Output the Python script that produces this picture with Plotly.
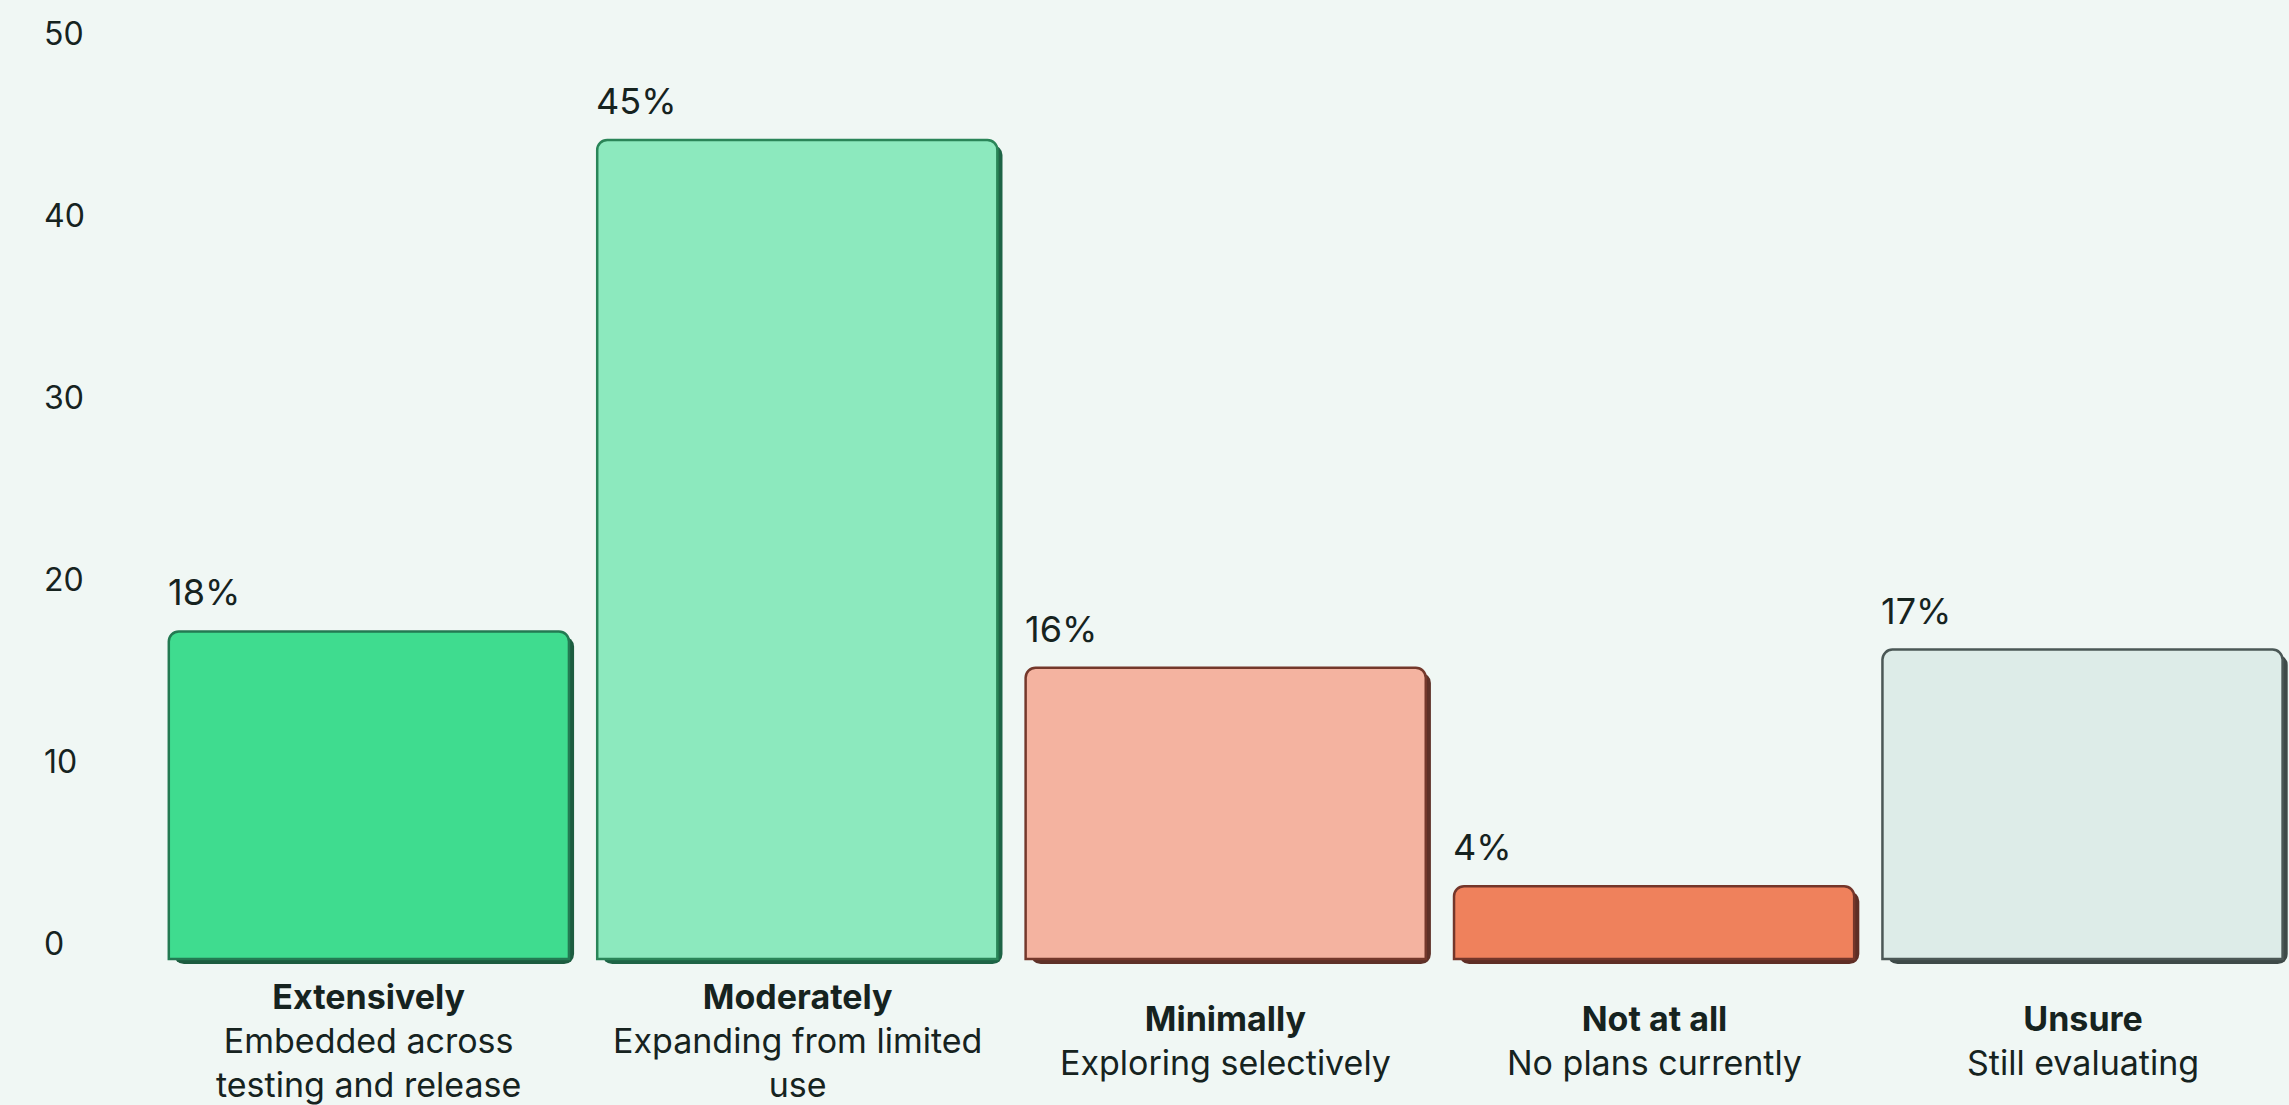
import plotly.graph_objects as go

categories = ["Extensively", "Moderately", "Minimally", "Not at all", "Unsure"]
subtitles = ["Embedded across<br>testing and release", "Expanding from limited<br>use",
             "Exploring selectively", "No plans currently", "Still evaluating"]
values = [18, 45, 16, 4, 17]
value_labels = ["18%", "45%", "16%", "4%", "17%"]
y_ticks = [0, 10, 20, 30, 40, 50]

fills = ["#3FDC8F", "#8CE9BE", "#F4B3A0", "#EF815C", "#DDECE8"]
outlines = ["#237A52", "#2A8558", "#74382B", "#74362A", "#4B5856"]
shadows = ["#1C5C3F", "#1E6446", "#5E3128", "#5E2E25", "#3E4A48"]

xs = list(range(len(categories)))
BAR_W = 0.934
TEXT = "#16231F"
FONT = "Inter"

fig = go.Figure()
# shadow bars (offset copy)
fig.add_trace(go.Bar(
    x=[x + 0.012 for x in xs], y=values, base=-0.28, width=BAR_W,
    marker=dict(color=shadows, cornerradius=10, line=dict(width=0)),
    hoverinfo="skip", showlegend=False,
))
fig.add_trace(go.Bar(
    x=xs, y=values, width=BAR_W,
    marker=dict(color=fills, cornerradius=10, line=dict(color=outlines, width=2.5)),
    showlegend=False,
))

for x, v, lab in zip(xs, values, value_labels):
    fig.add_annotation(x=x - BAR_W / 2, y=v, text=lab, showarrow=False,
                       xanchor="left", yanchor="middle", yshift=39, xshift=-3,
                       font=dict(family=FONT, size=36, color=TEXT))

for x, c, s in zip(xs, categories, subtitles):
    fig.add_annotation(x=x, y=-4.5, text=f"<b>{c}</b><br>{s}", showarrow=False,
                       xanchor="center", yanchor="middle", align="center",
                       font=dict(family=FONT, size=34, color=TEXT))

fig.update_layout(
    width=2289, height=1105,
    margin=dict(l=30, r=0, t=0, b=0),
    paper_bgcolor="#F0F7F4", plot_bgcolor="#F0F7F4",
    barmode="overlay",
    font=dict(family=FONT, color=TEXT),
)
fig.update_xaxes(range=[-0.791, 4.482], showticklabels=False, showgrid=False,
                 zeroline=False, showline=False, fixedrange=True)
fig.update_yaxes(range=[-8.02, 52.69], tickvals=y_ticks, ticktext=[str(t) for t in y_ticks],
                 showgrid=False, zeroline=False, showline=False,
                 ticklabelposition="inside", ticklabelshift=-15, ticklabelstandoff=11,
                 ticks="",
                 tickfont=dict(family=FONT, size=32, color=TEXT))

fig.write_html("out.html")
